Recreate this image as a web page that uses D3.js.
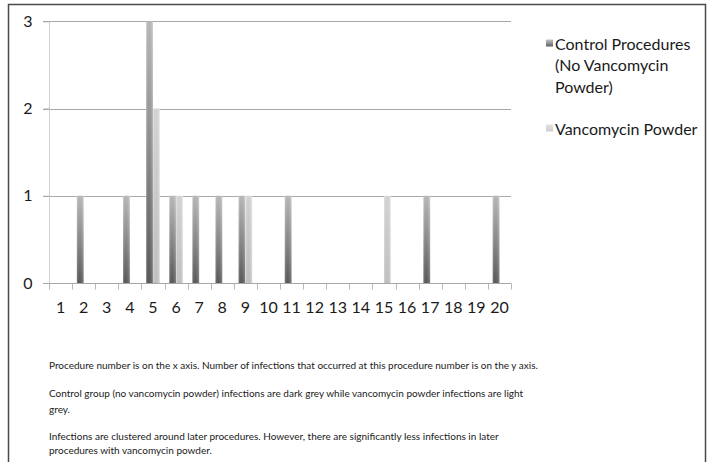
<!DOCTYPE html>
<html>
<head>
<meta charset="utf-8">
<script src="https://cdn.jsdelivr.net/npm/d3@7"></script>
<style>
  html, body { margin: 0; padding: 0; background: #fff; }
  svg { display: block; }
  text { font-family: Lato, "Open Sans", sans-serif; fill: #1a1a1a; }
</style>
</head>
<body>
<svg id="chart" width="712" height="462"></svg>
<script>
// Procedure numbers along the x axis
const procedures = d3.range(1, 21).map(String);
// Infections per procedure number
const controlInfections = [0, 1, 0, 1, 3, 1, 1, 1, 1, 0, 1, 0, 0, 0, 0, 0, 1, 0, 0, 1];
const vancomycinInfections = [0, 0, 0, 0, 2, 1, 0, 0, 1, 0, 0, 0, 0, 0, 1, 0, 0, 0, 0, 0];
const seriesNames = ["Control Procedures (No Vancomycin Powder)", "Vancomycin Powder"];
const yTicks = [0, 1, 2, 3];
const legendLines = [["Control Procedures", "(No Vancomycin", "Powder)"], ["Vancomycin Powder"]];
const notes = [
  ["Procedure number is on the x axis. Number of infections that occurred at this procedure number is on the y axis."],
  ["Control group (no vancomycin powder) infections are dark grey while vancomycin powder infections are light", "grey."],
  ["Infections are clustered around later procedures. However, there are significantly less infections in later", "procedures with vancomycin powder."]
];

const svg = d3.select("#chart");
const plot = { left: 49, right: 511, top: 21.3, bottom: 283 };

// Outer frame (open at the bottom)
svg.append("path")
  .attr("d", "M8.5,462 V4.5 H705.5 V462")
  .attr("fill", "none").attr("stroke", "#4a4a4a").attr("stroke-width", 1.5);

// Bar gradients
const defs = svg.append("defs");
const gradSpecs = [
  { id: "g-control", stops: [["0%", "#c4c4c4"], ["55%", "#8e8e8e"], ["100%", "#5e5e5e"]] },
  { id: "g-vanco", stops: [["0%", "#e2e2e2"], ["100%", "#cdcdcd"]] }
];
gradSpecs.forEach(g => {
  const lg = defs.append("linearGradient").attr("id", g.id)
    .attr("x1", 0).attr("y1", 0).attr("x2", 0).attr("y2", 1);
  g.stops.forEach(s => lg.append("stop").attr("offset", s[0]).attr("stop-color", s[1]));
});
// Soft side shading across the bar width
const side = defs.append("linearGradient").attr("id", "g-side")
  .attr("x1", 0).attr("y1", 0).attr("x2", 1).attr("y2", 0);
[["0%", "#fff", 0.18], ["35%", "#000", 0.06], ["100%", "#fff", 0.22]].forEach(s =>
  side.append("stop").attr("offset", s[0]).attr("stop-color", s[1]).attr("stop-opacity", s[2]));

const x0 = d3.scaleBand().domain(procedures).range([plot.left, plot.right]).padding(0);
const x1 = d3.scaleBand().domain(seriesNames).range([0, x0.bandwidth()]).paddingInner(0).paddingOuter(0.7);
const y = d3.scaleLinear().domain([0, 3]).range([plot.bottom, plot.top]);

// Horizontal gridlines
svg.append("g").selectAll("line").data(yTicks.filter(t => t > 0)).join("line")
  .attr("x1", plot.left - 6).attr("x2", plot.right)
  .attr("y1", d => Math.round(y(d)) + 0.5).attr("y2", d => Math.round(y(d)) + 0.5)
  .attr("stroke", "#a8a8a8").attr("stroke-width", 1);

// Y axis
const yAxis = svg.append("g").attr("transform", `translate(${plot.left + 0.5},0)`)
  .call(d3.axisLeft(y).tickValues(yTicks).tickFormat(d3.format("d")).tickSize(6).tickPadding(11));
yAxis.select(".domain").attr("stroke", "#cfcfcf").attr("d", `M0,${plot.top}V${plot.bottom}`);
yAxis.selectAll(".tick line").attr("stroke", "#a8a8a8");
yAxis.selectAll(".tick text").attr("font-size", 16).attr("fill", "#1a1a1a")
  .style("font-family", "Lato, sans-serif");

// Bars
const data = procedures.map((p, i) => ({ p, vals: [controlInfections[i], vancomycinInfections[i]] }));
const groups = svg.append("g").selectAll("g").data(data).join("g")
  .attr("transform", d => `translate(${x0(d.p)},0)`);
const barData = d => d.vals.map((v, j) => ({ v, s: seriesNames[j], j })).filter(b => b.v > 0);
groups.selectAll("rect.bar").data(barData).join("rect").attr("class", "bar")
  .attr("x", b => x1(b.s)).attr("width", x1.bandwidth())
  .attr("y", b => y(b.v)).attr("height", b => y(0) - y(b.v))
  .attr("fill", b => b.j === 0 ? "url(#g-control)" : "url(#g-vanco)");
groups.selectAll("rect.shade").data(barData).join("rect").attr("class", "shade")
  .attr("x", b => x1(b.s)).attr("width", x1.bandwidth())
  .attr("y", b => y(b.v)).attr("height", b => y(0) - y(b.v))
  .attr("fill", "url(#g-side)");

// X axis with ticks between categories
const xAxisG = svg.append("g").attr("transform", `translate(0,${Math.round(y(0)) + 0.5})`);
xAxisG.append("line").attr("x1", plot.left - 6).attr("x2", plot.right)
  .attr("stroke", "#a8a8a8");
xAxisG.selectAll("line.tk").data(procedures.concat(["end"])).join("line").attr("class", "tk")
  .attr("x1", (d, i) => Math.round(plot.left + i * x0.step()) + 0.5)
  .attr("x2", (d, i) => Math.round(plot.left + i * x0.step()) + 0.5)
  .attr("y1", 0).attr("y2", 6).attr("stroke", "#b8b8b8");
xAxisG.selectAll("text").data(procedures).join("text")
  .attr("x", d => x0(d) + x0.bandwidth() / 2).attr("y", 29)
  .attr("text-anchor", "middle").attr("font-size", 16).text(d => d);

// Legend
const legend = svg.append("g");
const legendTop = [49.5, 134.5];
legendLines.forEach((lines, j) => {
  legend.append("rect").attr("x", 546).attr("y", legendTop[j] - 10).attr("width", 7).attr("height", 7)
    .attr("fill", j === 0 ? "url(#g-control)" : "url(#g-vanco)");
  lines.forEach((t, k) => legend.append("text")
    .attr("x", 555).attr("y", legendTop[j] + k * 21.5)
    .attr("font-size", 16).text(t));
});

// Notes under the chart
const noteG = svg.append("g");
const noteY = [[369], [397, 413], [440, 454]];
notes.forEach((para, i) => para.forEach((t, k) => noteG.append("text")
  .attr("x", 49).attr("y", noteY[i][k]).attr("font-size", 10).attr("fill", "#222").text(t)));
</script>
</body>
</html>
